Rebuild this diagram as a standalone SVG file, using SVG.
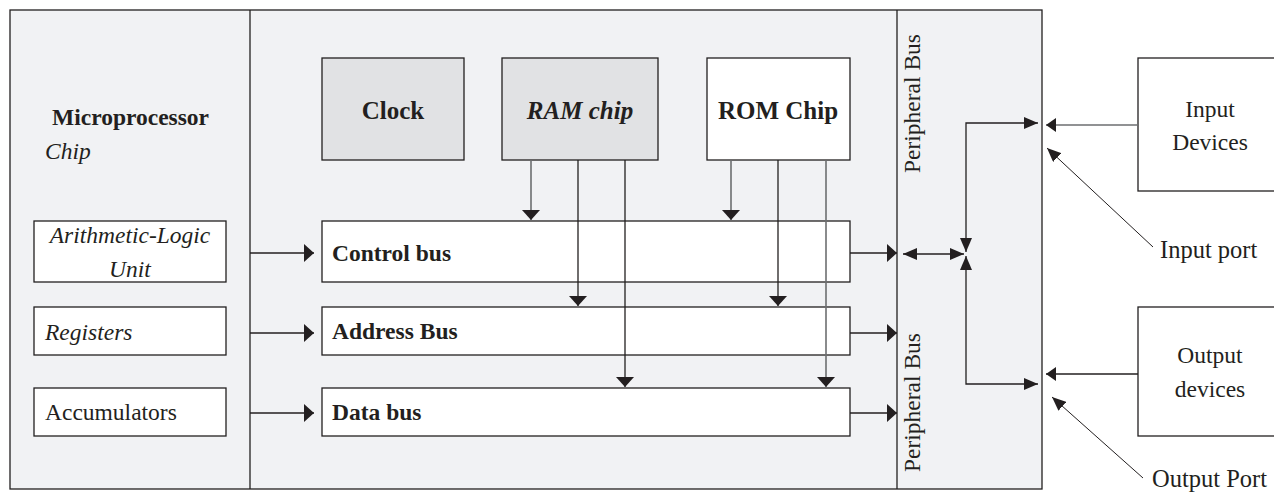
<svg xmlns="http://www.w3.org/2000/svg" width="1274" height="492" viewBox="0 0 1274 492">
<defs>
<style>
.bg{fill:#f1f2f4;stroke:#231f20;stroke-width:1.3}
.box{fill:#ffffff;stroke:#231f20;stroke-width:1.3}
.gbox{fill:#e1e2e4;stroke:#231f20;stroke-width:1.3}
.ln{fill:none;stroke:#231f20;stroke-width:1.3}
.lg{fill:none;stroke:#6d6e70;stroke-width:1.6}
text{font-family:"Liberation Serif","Times New Roman",serif;fill:#231f20;font-size:23.5px}
.b{font-weight:bold}
.i{font-style:italic}
.t{font-size:25px}
</style>
<marker id="tri" markerUnits="userSpaceOnUse" markerWidth="10" markerHeight="18" refX="10" refY="9" orient="auto" viewBox="0 0 10 18"><path d="M0,0 L10,9 L0,18 z" fill="#231f20"/></marker>
<marker id="tri2" markerUnits="userSpaceOnUse" markerWidth="14" markerHeight="12" refX="14" refY="6" orient="auto-start-reverse" viewBox="0 0 14 12"><path d="M0,0 L14,6 L0,12 z" fill="#231f20"/></marker>
<marker id="tri3" markerUnits="userSpaceOnUse" markerWidth="10" markerHeight="14" refX="10" refY="7" orient="auto" viewBox="0 0 10 14"><path d="M0,0 L10,7 L0,14 z" fill="#231f20"/></marker>
</defs>

<g id="microprocessor">
<rect class="bg" x="10" y="10" width="1032" height="479"/>
<line class="ln" x1="250" y1="10" x2="250" y2="489"/>
<line class="ln" x1="897" y1="10" x2="897" y2="489"/>
<text class="b" x="52" y="125">Microprocessor</text>
<text class="i" x="45" y="159">Chip</text>
</g>

<g id="alu"><rect class="box" x="34" y="221" width="192" height="61"/>
<text class="i" x="130" y="243" text-anchor="middle">Arithmetic-Logic</text>
<text class="i" x="130" y="277" text-anchor="middle">Unit</text></g>
<g id="registers"><rect class="box" x="34" y="307" width="192" height="48"/>
<text class="i" x="45" y="340">Registers</text></g>
<g id="accumulators"><rect class="box" x="34" y="388" width="192" height="48"/>
<text x="45" y="420">Accumulators</text></g>

<g id="clock"><rect class="gbox" x="322" y="58" width="142" height="102"/>
<text class="b t" x="393" y="119" text-anchor="middle">Clock</text></g>
<g id="ram"><rect class="gbox" x="502" y="58" width="156" height="102"/>
<text class="b i t" x="580" y="119" text-anchor="middle">RAM chip</text></g>
<g id="rom"><rect class="box" x="707" y="58" width="143" height="102"/>
<text class="b t" x="778" y="119" text-anchor="middle">ROM Chip</text></g>

<g id="control-bus"><rect class="box" x="322" y="221" width="528" height="61"/>
<text class="b" x="332" y="261">Control bus</text></g>
<g id="address-bus"><rect class="box" x="322" y="307" width="528" height="48"/>
<text class="b" x="332" y="339">Address Bus</text></g>
<g id="data-bus"><rect class="box" x="322" y="388" width="528" height="48"/>
<text class="b" x="332" y="420">Data bus</text></g>

<g id="peripheral-bus-labels">
<text transform="translate(920,173) rotate(-90)">Peripheral Bus</text>
<text transform="translate(920,472) rotate(-90)">Peripheral Bus</text>
</g>

<g id="input-devices"><rect class="box" x="1138" y="58" width="142" height="133"/>
<text x="1210" y="117" text-anchor="middle">Input</text>
<text x="1210" y="150" text-anchor="middle">Devices</text></g>
<g id="output-devices"><rect class="box" x="1138" y="307" width="142" height="129"/>
<text x="1210" y="363" text-anchor="middle">Output</text>
<text x="1210" y="397" text-anchor="middle">devices</text></g>

<g id="labels">
<text x="1160" y="258" style="font-size:24.5px">Input port</text>
<text x="1152" y="487" style="font-size:24.5px">Output Port</text>
</g>

<g id="connectors">
<line class="ln" x1="250" y1="253" x2="314" y2="253" marker-end="url(#tri)"/>
<line class="ln" x1="250" y1="333" x2="314" y2="333" marker-end="url(#tri)"/>
<line class="ln" x1="250" y1="413" x2="314" y2="413" marker-end="url(#tri)"/>
<line class="lg" x1="531" y1="160" x2="531" y2="220" marker-end="url(#tri)"/>
<line class="ln" x1="578" y1="160" x2="578" y2="306" marker-end="url(#tri)"/>
<line class="ln" x1="625" y1="160" x2="625" y2="387" marker-end="url(#tri)"/>
<line class="lg" x1="731" y1="160" x2="731" y2="220" marker-end="url(#tri)"/>
<line class="ln" x1="778" y1="160" x2="778" y2="306" marker-end="url(#tri)"/>
<line class="lg" x1="826" y1="160" x2="826" y2="387" marker-end="url(#tri)"/>
<line class="ln" x1="850" y1="253" x2="897" y2="253" marker-end="url(#tri)"/>
<line class="ln" x1="850" y1="333" x2="897" y2="333" marker-end="url(#tri)"/>
<line class="ln" x1="850" y1="413" x2="897" y2="413" marker-end="url(#tri)"/>
<line class="ln" x1="903" y1="254" x2="964" y2="254" marker-start="url(#tri2)" marker-end="url(#tri2)"/>
<polyline class="ln" points="1038,123 966,123 966,252" marker-start="url(#tri2)" marker-end="url(#tri2)"/>
<polyline class="ln" points="1038,384 966,384 966,256" marker-start="url(#tri2)" marker-end="url(#tri2)"/>
<line class="lg" x1="1138" y1="125" x2="1046" y2="125" marker-end="url(#tri3)"/>
<line class="ln" x1="1138" y1="374" x2="1046" y2="374" marker-end="url(#tri3)"/>
<line class="ln" x1="1153" y1="247" x2="1047" y2="148" marker-end="url(#tri2)" style="stroke-width:1"/>
<line class="ln" x1="1143" y1="478" x2="1052" y2="397" marker-end="url(#tri2)" style="stroke-width:1"/>
</g>
</svg>
